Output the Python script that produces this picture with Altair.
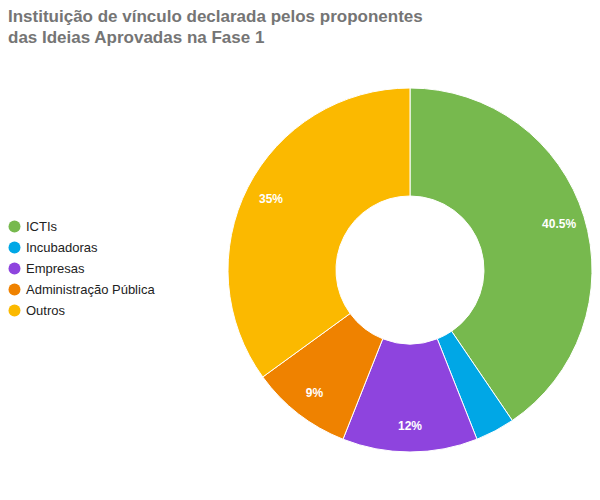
import altair as alt
import pandas as pd

categories = ["ICTIs", "Incubadoras", "Empresas", "Administração Pública", "Outros"]
values = [40.5, 3.5, 12, 9, 35]
labels = ["40.5%", "", "12%", "9%", "35%"]
colors = ["#77b94e", "#00a7e6", "#8e44de", "#ef8200", "#fbb900"]

df = pd.DataFrame({"cat": categories, "value": values, "label": labels, "idx": list(range(len(categories)))})

PAD_TOP = 40
W, H = 584, 484 - PAD_TOP
CX, CY = 402, 270 - 8 - PAD_TOP

base = alt.Chart(df).encode(
    theta=alt.Theta("value:Q", stack=True),
    order=alt.Order("idx:Q"),
    x=alt.value(CX),
    y=alt.value(CY),
)

arc = base.mark_arc(innerRadius=74, outerRadius=182, stroke="white", strokeWidth=1).encode(
    color=alt.Color(
        "cat:N",
        scale=alt.Scale(domain=categories, range=colors),
        legend=alt.Legend(
            title=None,
            orient="none",
            legendX=0,
            legendY=220 - 8 - PAD_TOP,
            symbolType="circle",
            symbolSize=144,
            symbolStrokeWidth=0,
            symbolOpacity=1,
            labelFontSize=13,
            labelFont="Liberation Sans",
            labelColor="#222222",
            rowPadding=7,
            labelOffset=5,
        ),
    )
)

text = base.mark_text(radius=156, fontSize=12, fontWeight="bold", color="white", font="Liberation Sans").encode(
    text="label:N"
)

chart = alt.layer(arc, text).properties(
    width=W,
    height=H,
    padding={"top": PAD_TOP, "left": 0, "right": 0, "bottom": 0},
    autosize=alt.AutoSizeParams(type="none"),
    title=alt.TitleParams(
        text=["Instituição de vínculo declarada pelos proponentes", "das Ideias Aprovadas na Fase 1"],
        anchor="start",
        frame="group",
        fontSize=17,
        font="Liberation Sans",
        fontWeight="bold",
        color="#757575",
        lineHeight=21,
        offset=1,
    ),
).configure_view(stroke=None)

chart.save("out.html", embed_options={"renderer": "svg", "actions": False})
